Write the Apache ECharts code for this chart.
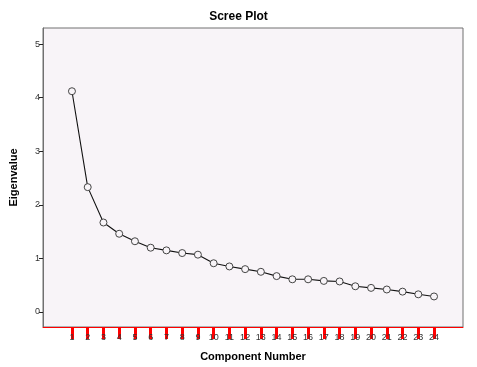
<!DOCTYPE html>
<html><head><meta charset="utf-8">
<script src="https://cdn.jsdelivr.net/npm/echarts@6/dist/echarts.min.js"></script>
<style>html,body{margin:0;padding:0;background:#fff}#c{width:477px;height:367px}</style>
</head><body><div id="c"></div>
<script>
var components = [1,2,3,4,5,6,7,8,9,10,11,12,13,14,15,16,17,18,19,20,21,22,23,24];
var eigenvalues = [4.12,2.33,1.67,1.46,1.32,1.20,1.15,1.10,1.07,0.91,0.85,0.80,0.75,0.67,0.61,0.61,0.58,0.57,0.48,0.45,0.42,0.38,0.33,0.29];
var yTicks = [0,1,2,3,4,5];
var chart = echarts.init(document.getElementById('c'));
chart.setOption({
  animation:false,
  title:{text:'Scree Plot',left:'center',top:6,textStyle:{fontFamily:'Arial, Liberation Sans',fontSize:12,fontWeight:'bold',color:'#000'}},
  grid:{left:42,top:28,width:421,height:302,show:true,backgroundColor:'#f8f4f8',borderColor:'#707070',borderWidth:1},
  xAxis:{type:'value',min:-0.84,max:25.84,
    name:'Component Number',nameLocation:'middle',nameGap:24,
    nameTextStyle:{fontFamily:'Arial, Liberation Sans',fontSize:11,fontWeight:'bold',color:'#000'},
    axisLine:{show:true,onZero:false,lineStyle:{color:'red',width:1}},splitLine:{show:false},
    axisTick:{show:true,length:12,customValues:components,lineStyle:{color:'red',width:3}},
    axisLabel:{show:true,customValues:components,fontFamily:'Arial, Liberation Sans',fontSize:9,color:'#333',margin:6}},
  yAxis:{type:'value',min:-0.28,max:5.3,
    name:'Eigenvalue',nameLocation:'middle',nameGap:24,nameRotate:90,
    nameTextStyle:{fontFamily:'Arial, Liberation Sans',fontSize:11,fontWeight:'bold',color:'#000'},
    axisLine:{show:true,onZero:false,lineStyle:{color:'#707070',width:1}},splitLine:{show:false},
    axisTick:{show:true,length:4,customValues:yTicks,lineStyle:{color:'#222',width:1}},
    axisLabel:{customValues:yTicks,fontFamily:'Arial, Liberation Sans',fontSize:9,color:'#333',margin:3}},
  series:[{type:'line',data:components.map(function(c,i){return [c,eigenvalues[i]];}),
    symbol:'circle',symbolSize:7,
    lineStyle:{color:'#111',width:1.1},
    itemStyle:{color:'#f8f4f8',borderColor:'#444',borderWidth:1}}]
});
</script></body></html>
